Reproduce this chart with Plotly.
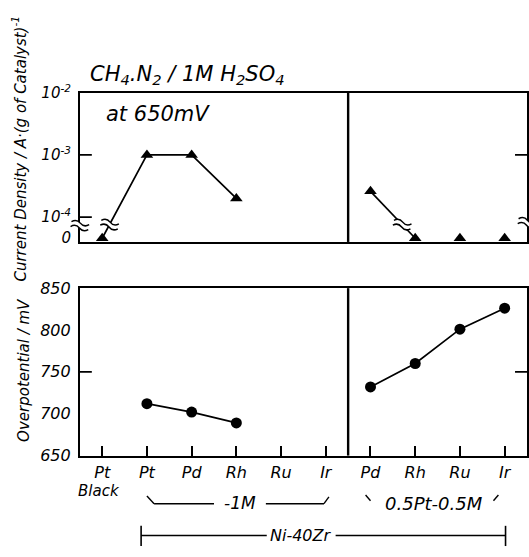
import numpy as np
import plotly.graph_objects as go

# ---------------- data ----------------
positions = list(range(10))
tick_labels = ["Pt", "Pt", "Pd", "Rh", "Ru", "Ir", "Pd", "Rh", "Ru", "Ir"]
sub_label = "Black"          # second line under the first category ("Pt Black")
# current density A (g of catalyst)^-1 at 650 mV (0 = not detected)
current_density = [0.0, 1.0e-3, 1.0e-3, 2.0e-4, None, None, 2.6e-4, 0.0, 0.0, 0.0]
# overpotential, mV
overpotential = [None, 712, 702, 689, None, None, 732, 760, 801, 826]
connected_top = [[0, 1, 2, 3], [6, 7]]
connected_bot = [[1, 2, 3], [6, 7, 8, 9]]

W, H = 529, 557
FONT = "DejaVu Sans"
ZERO = -4.34          # plotting level (decades) used for a zero value
TOP_RANGE = [-4.40, -2.0]
BOT_RANGE = [650, 850]
X_RANGE = [-0.5, 9.5]
XDOM = [80 / W, 528 / W]
TOP_DOM = [1 - 240 / H, 1 - 85 / H]
BOT_DOM = [1 - 462 / H, 1 - 288 / H]


def to_dec(v):
    if v is None:
        return None
    return ZERO if v == 0 else float(np.log10(v))


top_y = [to_dec(v) for v in current_density]

fig = go.Figure()

# top panel lines
for seg in connected_top:
    fig.add_trace(go.Scatter(x=[positions[i] for i in seg], y=[top_y[i] for i in seg],
                             mode="lines", line=dict(color="black", width=1.7),
                             xaxis="x", yaxis="y", showlegend=False, hoverinfo="skip"))
fig.add_trace(go.Scatter(x=positions, y=top_y, mode="markers",
                         marker=dict(symbol="triangle-up", size=11, color="black"),
                         xaxis="x", yaxis="y", showlegend=False, cliponaxis=False))
# bottom panel
for seg in connected_bot:
    fig.add_trace(go.Scatter(x=[positions[i] for i in seg], y=[overpotential[i] for i in seg],
                             mode="lines", line=dict(color="black", width=1.7),
                             xaxis="x2", yaxis="y2", showlegend=False, hoverinfo="skip"))
fig.add_trace(go.Scatter(x=positions, y=overpotential, mode="markers",
                         marker=dict(symbol="circle", size=11, color="black"),
                         xaxis="x2", yaxis="y2", showlegend=False, cliponaxis=False))

shapes = []
LW = 1.8


def line(x0, y0, x1, y1, xref, yref, w=LW):
    shapes.append(dict(type="line", x0=x0, y0=y0, x1=x1, y1=y1, xref=xref, yref=yref,
                       line=dict(color="black", width=w), layer="above"))


# divider between the two catalyst groups
line(5.5, 0, 5.5, 1, "x", "y domain", 2.4)
line(5.5, 0, 5.5, 1, "x2", "y2 domain", 2.4)

# axis ticks (inward)
TL = 12 / 448
for v in (-3, -4):
    line(0, v, TL, v, "x domain", "y")
line(1 - TL, -3, 1, -3, "x domain", "y")
line(0, 750, TL, 750, "x2 domain", "y2")
line(1 - TL, 750, 1, 750, "x2 domain", "y2")


# break symbols
def brk(cx, cy, sx, sy, xref, yref, ang=0.0, gap=2.6, half=9, amp=4.0):
    c, s = np.cos(np.radians(ang)), np.sin(np.radians(ang))

    def P(dx, dy):
        rx, ry = dx * c - dy * s, dx * s + dy * c
        return f"{cx + rx * sx:.5f},{cy + ry * sy:.5f}"

    def curve(o, rev=False):
        pts = [(-half, o), (-half / 2, o + amp), (0, o), (half / 2, o - amp), (half, o)]
        if rev:
            pts = pts[::-1]
        return pts

    t = curve(gap)
    b = curve(-gap, rev=True)
    fill = (f"M{P(*t[0])} Q{P(*t[1])} {P(*t[2])} Q{P(*t[3])} {P(*t[4])} "
            f"L{P(*b[0])} Q{P(*b[1])} {P(*b[2])} Q{P(*b[3])} {P(*b[4])} Z")
    shapes.append(dict(type="path", path=fill, xref=xref, yref=yref,
                       fillcolor="white", line=dict(width=0), layer="above"))
    for o in (gap, -gap):
        q = curve(o)
        shapes.append(dict(type="path", path=f"M{P(*q[0])} Q{P(*q[1])} {P(*q[2])} Q{P(*q[3])} {P(*q[4])}",
                           xref=xref, yref=yref, line=dict(color="black", width=1.5), layer="above"))


px_x = (XDOM[1] - XDOM[0]) * W / (X_RANGE[1] - X_RANGE[0])
px_y = (TOP_DOM[1] - TOP_DOM[0]) * H / (TOP_RANGE[1] - TOP_RANGE[0])

# breaks on the connecting lines
BRK_LEVEL = -4.12
for i0, i1 in ((0, 1), (6, 7)):
    y0, y1 = top_y[i0], top_y[i1]
    t = (BRK_LEVEL - y0) / (y1 - y0)
    bx = positions[i0] + t * (positions[i1] - positions[i0])
    brk(bx, BRK_LEVEL, 1 / px_x, 1 / px_y, "x", "y", ang=-12)
# breaks on the axes (paper coordinates)
brk(80 / W, 1 - 223 / H, 1 / W, 1 / H, "paper", "paper", ang=-10)
brk(528 / W, 1 - 220 / H, 1 / W, 1 / H, "paper", "paper", ang=-10)


def yp(py):
    return 1 - py / H


# group brackets below the axis
BW = 1.4
line(1.00, yp(504), 1.16, yp(512), "x2", "paper", BW)
line(1.16, yp(512), 2.50, yp(512), "x2", "paper", BW)
line(3.66, yp(512), 4.96, yp(512), "x2", "paper", BW)
line(4.96, yp(512), 5.07, yp(505), "x2", "paper", BW)
line(5.89, yp(503), 6.00, yp(509), "x2", "paper", BW)
line(8.75, yp(509), 8.86, yp(503), "x2", "paper", BW)
line(0.87, yp(545), 3.68, yp(545), "x2", "paper", BW)
line(5.22, yp(545), 9.02, yp(545), "x2", "paper", BW)
line(0.87, yp(535), 0.87, yp(556), "x2", "paper", 1.6)
line(9.02, yp(535), 9.02, yp(556), "x2", "paper", 1.6)


def ital(size):
    return dict(family=FONT, size=size, color="black", style="italic")


annotations = [
    dict(text="CH<sub>4</sub>.N<sub>2</sub> / 1M H<sub>2</sub>SO<sub>4</sub>", x=88 / W, y=yp(67),
         xref="paper", yref="paper", xanchor="left", yanchor="middle", showarrow=False, font=ital(21)),
    dict(text="at 650mV", x=104 / W, y=yp(107), xref="paper", yref="paper",
         xanchor="left", yanchor="middle", showarrow=False, font=ital(21)),
    dict(text="Current Density / A·(g of Catalyst)<sup>-1</sup>", x=19 / W, y=yp(143),
         xref="paper", yref="paper", xanchor="center", yanchor="middle", textangle=-90,
         showarrow=False, font=ital(15)),
    dict(text="Overpotential / mV", x=24 / W, y=yp(373), xref="paper", yref="paper",
         xanchor="center", yanchor="middle", textangle=-90, showarrow=False, font=ital(15)),
    dict(text=sub_label, x=positions[0] - 0.08, y=yp(499), xref="x2", yref="paper", showarrow=False,
         xanchor="center", yanchor="middle", font=ital(15), borderpad=0),
    dict(text="-1M", x=3.08, y=yp(511), xref="x2", yref="paper", showarrow=False,
         xanchor="center", yanchor="middle", font=ital(17)),
    dict(text="0.5Pt-0.5M", x=7.41, y=yp(512), xref="x2", yref="paper", showarrow=False,
         xanchor="center", yanchor="middle", font=ital(18)),
    dict(text="Ni-40Zr", x=4.45, y=yp(545), xref="x2", yref="paper", showarrow=False,
         xanchor="center", yanchor="middle", font=ital(16)),
]

axis_common = dict(showline=True, linecolor="black", linewidth=LW, mirror=True,
                   showgrid=False, zeroline=False)

fig.update_layout(
    width=W, height=H,
    margin=dict(l=0, r=0, t=0, b=0),
    paper_bgcolor="white", plot_bgcolor="white",
    font=ital(16),
    showlegend=False,
    xaxis=dict(domain=XDOM, range=X_RANGE, anchor="y", showticklabels=False, ticks="",
               **axis_common),
    yaxis=dict(domain=TOP_DOM, range=TOP_RANGE, anchor="x", ticks="",
               tickvals=[ZERO, -4, -3, -2],
               ticktext=["0", "10<sup>-4</sup>", "10<sup>-3</sup>", "10<sup>-2</sup>"],
               tickfont=ital(15), ticklabelstandoff=4, **axis_common),
    xaxis2=dict(domain=XDOM, range=X_RANGE, anchor="y2", ticks="inside", ticklen=10,
                tickwidth=1.7, tickcolor="black", tickvals=positions, ticktext=tick_labels,
                tickfont=ital(16), ticklabelstandoff=1, **axis_common),
    yaxis2=dict(domain=BOT_DOM, range=BOT_RANGE, anchor="x2", ticks="",
                tickvals=[650, 700, 750, 800, 850], tickfont=ital(16),
                ticklabelstandoff=4, **axis_common),
    shapes=shapes,
    annotations=annotations,
)

fig.write_html("out.html")
